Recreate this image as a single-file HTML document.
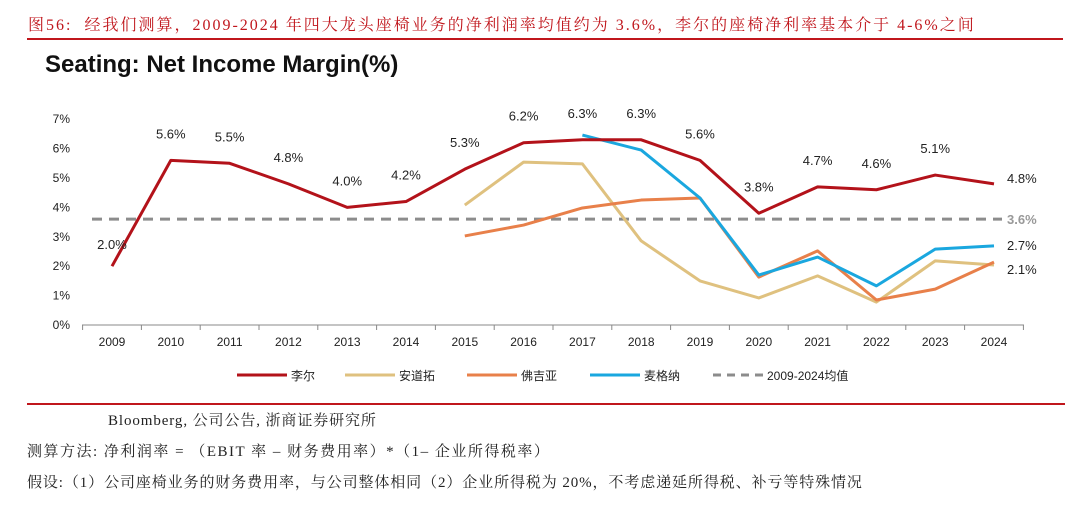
<!DOCTYPE html>
<html><head><meta charset="utf-8">
<style>
body{margin:0;width:1080px;height:512px;background:#fff;overflow:hidden;position:relative;font-family:"Liberation Serif","Noto Serif CJK SC",serif;}
.t{position:absolute;white-space:nowrap;}
</style></head><body>
<div class="t" style="left:28px;top:12px;font-size:16px;letter-spacing:2px;color:#c0161c;">图56:&nbsp; 经我们测算，2009-2024 年四大龙头座椅业务的净利润率均值约为 3.6%，李尔的座椅净利率基本介于 4-6%之间</div>
<div style="position:absolute;left:27px;top:38px;width:1036px;height:2px;background:#c0161c;"></div>
<div class="t" style="left:45px;top:51px;font-family:'Liberation Sans','DejaVu Sans',sans-serif;font-weight:bold;font-size:24px;color:#111;">Seating: Net Income Margin(%)</div>
<svg id="chart" width="1080" height="400" style="position:absolute;left:0;top:0;font-family:'Liberation Sans',sans-serif;"></svg>
<div style="position:absolute;left:27px;top:403px;width:1038px;height:2px;background:#c0161c;"></div>
<div class="t" style="left:108px;top:409px;font-size:15px;letter-spacing:0.9px;color:#222;">Bloomberg, 公司公告, 浙商证券研究所</div>
<div class="t" style="left:27px;top:440px;font-size:15px;letter-spacing:1.5px;color:#222;">测算方法: 净利润率 = （EBIT 率 – 财务费用率）*（1– 企业所得税率）</div>
<div class="t" style="left:27px;top:471px;font-size:15px;letter-spacing:0.9px;color:#222;">假设:（1）公司座椅业务的财务费用率，与公司整体相同（2）企业所得税为 20%，不考虑递延所得税、补亏等特殊情况</div>
<script>
const years=["2009","2010","2011","2012","2013","2014","2015","2016","2017","2018","2019","2020","2021","2022","2023","2024"];
const yTicks=[0,1,2,3,4,5,6,7];
const lear=[2.0,5.6,5.5,4.8,4.0,4.2,5.3,6.2,6.3,6.3,5.6,3.8,4.7,4.6,5.1,4.8];
const adient=[null,null,null,null,null,null,4.08,5.54,5.48,2.86,1.5,0.92,1.67,0.78,2.18,2.04];
const faurecia=[null,null,null,null,null,null,3.03,3.4,3.98,4.25,4.32,1.63,2.52,0.85,1.22,2.14];
const magna=[null,null,null,null,null,null,null,null,6.46,5.95,4.32,1.7,2.31,1.33,2.58,2.69];
const avgVal=3.6;
const learLabels=["2.0%","5.6%","5.5%","4.8%","4.0%","4.2%","5.3%","6.2%","6.3%","6.3%","5.6%","3.8%","4.7%","4.6%","5.1%","4.8%"];
const ns="http://www.w3.org/2000/svg";
const svg=document.getElementById('chart');
const x0=112,dx=58.8,y0=325,py=29.4;
const X=i=>x0+i*dx, Y=v=>y0-v*py;
function mk(t,a){const e=document.createElementNS(ns,t);for(const k in a)e.setAttribute(k,a[k]);svg.appendChild(e);return e;}
let ax=mk('line',{x1:82,y1:y0,x2:1024,y2:y0,stroke:'#888','stroke-width':1});


for(let i=0;i<=years.length;i++){const xx=X(i)-dx/2;const tk=mk('line',{x1:xx,y1:y0,x2:xx,y2:y0+5,stroke:'#888'});

}
years.forEach((y,i)=>{const t=mk('text',{x:X(i),y:y0+21,'font-size':12,'text-anchor':'middle',fill:'#222'});t.textContent=y;

});
yTicks.forEach(v=>{const t=mk('text',{x:70,y:Y(v)+4,'font-size':12,'text-anchor':'end',fill:'#222'});t.textContent=v+'%';

});
let av=mk('line',{x1:X(0)-20,y1:Y(avgVal),x2:X(15)+8,y2:Y(avgVal),stroke:'#8c8c8c','stroke-width':3,'stroke-dasharray':'10,7'});


let avl=mk('text',{x:1007,y:Y(avgVal)+5,'font-size':13,fill:'#999','font-weight':'bold'});avl.textContent=avgVal.toFixed(1)+'%';


function series(data,color,name){let d='';data.forEach((v,i)=>{if(v==null)return;d+=(d?'L':'M')+X(i)+','+Y(v);});
const p=mk('path',{d:d,fill:'none',stroke:color,'stroke-width':3,'stroke-linejoin':'round'});

}
series(adient,'#dfc17f','adient-line');
series(faurecia,'#e8804a','faurecia-line');
series(magna,'#1aa7df','magna-line');
series(lear,'#b3121a','lear-line');
lear.forEach((v,i)=>{if(i==15)return;const t=mk('text',{x:X(i),y:Y(v)-(i==0?-0:22)+(i==0?-17:0),'font-size':13,'text-anchor':'middle',fill:'#222'});t.textContent=learLabels[i];

});
const endLabels=[[lear[15],'4.8%',-5],[magna[15],'2.7%',0],[faurecia[15],'2.1%',8]];
endLabels.forEach(e=>{const t=mk('text',{x:1007,y:Y(e[0])+e[2]+4,'font-size':13,fill:'#222'});t.textContent=e[1];

});
const leg=[['李尔','#b3121a',237,0],['安道拓','#dfc17f',345,0],['佛吉亚','#e8804a',467,0],['麦格纳','#1aa7df',590,0],['2009-2024均值','#8c8c8c',713,1]];
leg.forEach(l=>{const ln=mk('line',{x1:l[2],y1:375,x2:l[2]+50,y2:375,stroke:l[1],'stroke-width':3});if(l[3])ln.setAttribute('stroke-dasharray','8,6');


const t=mk('text',{x:l[2]+54,y:380,'font-size':12,fill:'#222','font-family':"'Liberation Sans','Noto Sans CJK SC',sans-serif"});t.textContent=l[0];

});
</script>
</body></html>
